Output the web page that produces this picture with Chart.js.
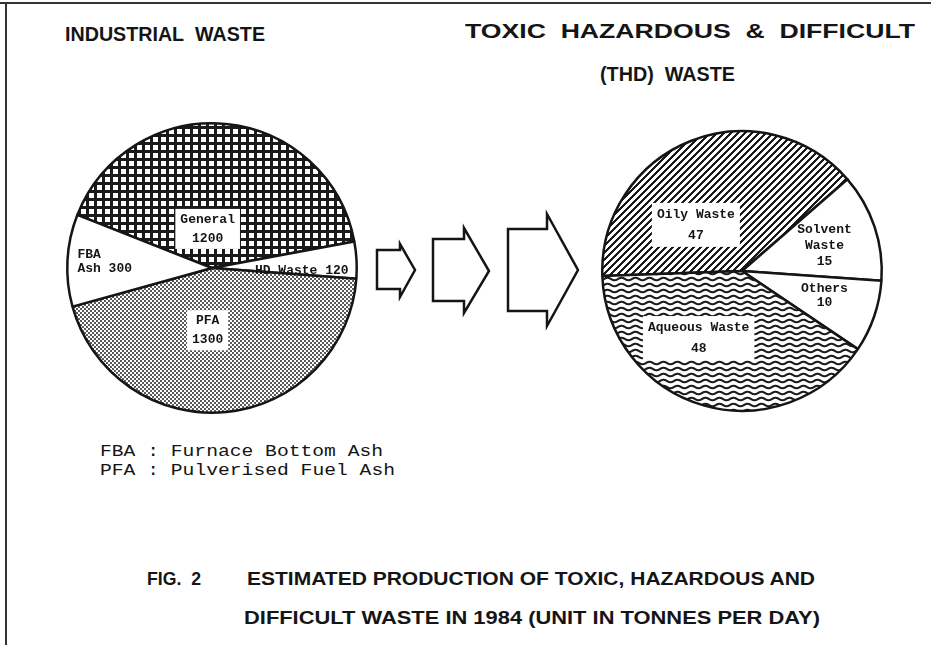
<!DOCTYPE html>
<html><head><meta charset="utf-8">
<script src="https://cdn.jsdelivr.net/npm/chart.js@4.4.1/dist/chart.umd.min.js"></script>
<style>
html,body{margin:0;padding:0;background:#fff;}
#page{position:relative;width:931px;height:645px;overflow:hidden;background:#fff;}
.t{position:absolute;white-space:nowrap;color:#151515;transform-origin:0 50%;line-height:1;}
.sans{font-family:"Liberation Sans Narrow","Liberation Sans",Arial,sans-serif;font-weight:bold;}
.mono{font-family:"Liberation Mono","DejaVu Sans Mono",monospace;}
#fTop{position:absolute;left:0;top:2px;width:931px;height:2px;background:#333;}
#fLeft{position:absolute;left:5px;top:2px;width:2px;height:643px;background:#333;}
canvas{position:absolute;}
svg{position:absolute;left:0;top:0;}
</style></head><body>
<div id="page">
<div id="fTop"></div><div id="fLeft"></div>
<div class="t sans" data-x="65" data-y="33" data-w="200" style="font-size:21px">INDUSTRIAL&nbsp; WASTE</div>
<div class="t sans" data-x="465" data-y="30" data-w="450" style="font-size:21px">TOXIC&nbsp; HAZARDOUS&nbsp; &amp;&nbsp; DIFFICULT</div>
<div class="t sans" data-x="600" data-y="73" data-w="135" style="font-size:21px">(THD)&nbsp; WASTE</div>
<div class="t mono" data-x="100" data-y="452" data-w="283" style="font-size:16px">FBA : Furnace Bottom Ash</div>
<div class="t mono" data-x="100" data-y="471" data-w="295" style="font-size:16px">PFA : Pulverised Fuel Ash</div>
<div class="t sans" data-x="147" data-y="579" data-w="54" style="font-size:18px">FIG.&nbsp; 2</div>
<div class="t sans" data-x="247" data-y="579" data-w="568" style="font-size:18px">ESTIMATED PRODUCTION OF TOXIC, HAZARDOUS AND</div>
<div class="t sans" data-x="244" data-y="618" data-w="576" style="font-size:18px">DIFFICULT WASTE IN 1984 (UNIT IN TONNES PER DAY)</div>
<canvas id="c1" width="300" height="300" style="left:62px;top:118px"></canvas>
<canvas id="c2" width="290" height="290" style="left:597px;top:126px"></canvas>
<svg width="931" height="645">
<g fill="none" stroke="#151515" stroke-width="2.5" stroke-linejoin="miter">
<polygon points="377,250 400,250 400,244 415,270 400,297 400,289 377,289"/>
<polygon points="433,239 464,239 464,228 489,271 464,313 464,301 433,301"/>
<polygon points="508,229 547,229 547,214 578,270 547,326 547,311 508,311"/>
</g>
</svg>
</div>
<script>
// ---- data ----
const industrialLabels = ['General', 'HD Waste', 'PFA', 'FBA Ash'];
const industrialValues = [1200, 120, 1300, 300];
const thdLabels = ['Oily Waste', 'Solvent Waste', 'Others', 'Aqueous Waste'];
const thdValues = [47, 15, 10, 48];

// fit title texts to their widths
document.querySelectorAll('.t').forEach(el => {
  const r = el.getBoundingClientRect();
  const tw = +el.dataset.w;
  el.style.left = el.dataset.x + 'px';
  el.style.top = (+el.dataset.y - r.height / 2) + 'px';
  el.style.transform = 'scaleX(' + (tw / r.width) + ')';
});

// ---- patterns ----
function mkPattern(w, h, draw) {
  const c = document.createElement('canvas');
  c.width = w; c.height = h;
  const g = c.getContext('2d');
  g.fillStyle = '#fff'; g.fillRect(0, 0, w, h);
  g.fillStyle = '#1a1a1a'; g.strokeStyle = '#1a1a1a';
  draw(g, w, h);
  return document.createElement('canvas').getContext('2d').createPattern(c, 'repeat');
}
const gridPat = mkPattern(8, 8, g => { g.fillRect(0, 0, 8, 3); g.fillRect(0, 0, 3, 8); });
const dotPat = mkPattern(4, 4, g => { g.fillStyle = '#5a5a5a'; g.fillRect(0, 0, 2, 2); g.fillRect(2, 2, 2, 2); });
const hatchPat = mkPattern(7, 7, g => {
  for (let y = 0; y < 7; y++) for (let k = 0; k < 3; k++) g.fillRect((6 - y + k + 7) % 7, y, 1, 1);
});
const wavePat = mkPattern(14, 6, g => {
  g.lineWidth = 2;
  for (const off of [-6, 0, 6]) {
    g.beginPath();
    for (let x = -1; x <= 15; x += 0.5) {
      const y = 3 + off + 1.2 * Math.sin(2 * Math.PI * x / 14);
      if (x === -1) g.moveTo(x, y); else g.lineTo(x, y);
    }
    g.stroke();
  }
});

// ---- slice label plugin ----
const sliceLabels = {
  id: 'sliceLabels',
  afterDatasetsDraw(chart, args, opts) {
    const ctx = chart.ctx;
    const arc = chart.getDatasetMeta(0).data[0];
    const cx = arc.x, cy = arc.y, r = arc.outerRadius;
    opts.items.forEach(it => {
      ctx.save();
      ctx.font = opts.font;
      const x = cx + it.dx * r, y = cy + it.dy * r;
      const lines = it.lines, lh = it.lh;
      const w = Math.max(...lines.map(l => ctx.measureText(l).width));
      const h = lh * lines.length;
      const left = it.align === 'left' ? x : x - w / 2;
      if (it.box) {
        ctx.fillStyle = '#fff';
        ctx.fillRect(left - 5, y - h / 2 - 1, w + 10, h + 2);
      }
      ctx.fillStyle = '#151515';
      ctx.textAlign = it.align || 'center';
      ctx.textBaseline = 'middle';
      lines.forEach((l, k) => ctx.fillText(l, x, y - h / 2 + lh * (k + 0.5)));
      ctx.restore();
    });
  }
};

const baseOpts = (rotation, items) => ({
  responsive: false, animation: false, events: [], rotation,
  layout: { padding: 4 },
  plugins: { legend: { display: false }, tooltip: { enabled: false },
    sliceLabels: { font: 'bold 13px "Liberation Mono", monospace', items } }
});

new Chart(document.getElementById('c1'), {
  type: 'pie',
  data: { labels: industrialLabels, datasets: [{ data: industrialValues,
    backgroundColor: [gridPat, '#fff', dotPat, '#fff'], borderColor: '#151515', borderWidth: 2.5 }] },
  options: baseOpts(-68.5, [
    { lines: [industrialLabels[0], String(industrialValues[0])], dx: -0.03, dy: -0.27, lh: 19, box: true },
    { lines: ['HD Waste ' + industrialValues[1]], dx: 0.62, dy: 0.02, lh: 14 },
    { lines: [industrialLabels[2], String(industrialValues[2])], dx: -0.03, dy: 0.43, lh: 19, box: true },
    { lines: ['FBA', 'Ash ' + industrialValues[3]], dx: -0.93, dy: -0.04, lh: 14, align: 'left' }
  ]),
  plugins: [sliceLabels]
});

new Chart(document.getElementById('c2'), {
  type: 'pie',
  data: { labels: thdLabels, datasets: [{ data: thdValues,
    backgroundColor: [hatchPat, '#fff', '#fff', wavePat], borderColor: '#151515', borderWidth: 2.5 }] },
  options: baseOpts(-92, [
    { lines: [thdLabels[0], String(thdValues[0])], dx: -0.33, dy: -0.33, lh: 21, box: true },
    { lines: ['Solvent', 'Waste', String(thdValues[1])], dx: 0.59, dy: -0.18, lh: 16 },
    { lines: [thdLabels[2], String(thdValues[2])], dx: 0.59, dy: 0.18, lh: 14 },
    { lines: [thdLabels[3], String(thdValues[3])], dx: -0.31, dy: 0.48, lh: 21, box: true }
  ]),
  plugins: [sliceLabels]
});
</script>
</body></html>
